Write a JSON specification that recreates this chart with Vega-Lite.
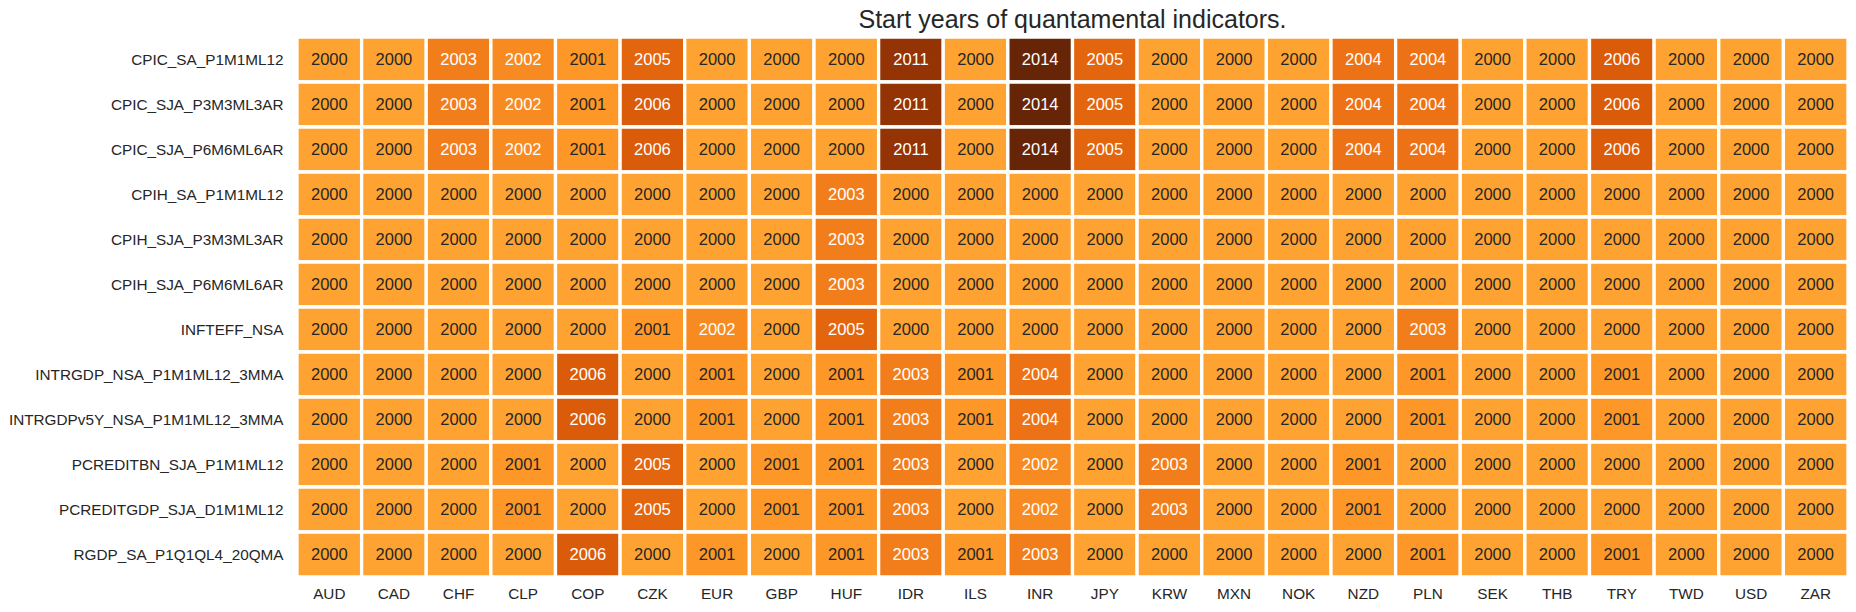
{
  "$schema": "https://vega.github.io/schema/vega-lite/v6.json",
  "autosize": {"type": "none"},
  "width": 1551,
  "height": 540,
  "padding": {"left": 297, "top": 37, "right": 8, "bottom": 35},
  "background": "white",
  "title": {"text": "Start years of quantamental indicators.", "fontSize": 25, "font": "Liberation Sans", "fontWeight": "normal", "color": "#262626", "anchor": "middle", "offset": 2},
  "config": {"view": {"stroke": null}, "axis": {"domain": false, "ticks": false, "grid": false, "labelFont": "Liberation Sans", "labelFontSize": 15.3, "labelColor": "#262626", "labelLimit": 0}},
  "data": {"values": [
{"ind":"CPIC_SA_P1M1ML12","cur":"AUD","year":2000},{"ind":"CPIC_SA_P1M1ML12","cur":"CAD","year":2000},{"ind":"CPIC_SA_P1M1ML12","cur":"CHF","year":2003},{"ind":"CPIC_SA_P1M1ML12","cur":"CLP","year":2002},{"ind":"CPIC_SA_P1M1ML12","cur":"COP","year":2001},{"ind":"CPIC_SA_P1M1ML12","cur":"CZK","year":2005},{"ind":"CPIC_SA_P1M1ML12","cur":"EUR","year":2000},{"ind":"CPIC_SA_P1M1ML12","cur":"GBP","year":2000},{"ind":"CPIC_SA_P1M1ML12","cur":"HUF","year":2000},{"ind":"CPIC_SA_P1M1ML12","cur":"IDR","year":2011},{"ind":"CPIC_SA_P1M1ML12","cur":"ILS","year":2000},{"ind":"CPIC_SA_P1M1ML12","cur":"INR","year":2014},{"ind":"CPIC_SA_P1M1ML12","cur":"JPY","year":2005},{"ind":"CPIC_SA_P1M1ML12","cur":"KRW","year":2000},{"ind":"CPIC_SA_P1M1ML12","cur":"MXN","year":2000},{"ind":"CPIC_SA_P1M1ML12","cur":"NOK","year":2000},{"ind":"CPIC_SA_P1M1ML12","cur":"NZD","year":2004},{"ind":"CPIC_SA_P1M1ML12","cur":"PLN","year":2004},{"ind":"CPIC_SA_P1M1ML12","cur":"SEK","year":2000},{"ind":"CPIC_SA_P1M1ML12","cur":"THB","year":2000},{"ind":"CPIC_SA_P1M1ML12","cur":"TRY","year":2006},{"ind":"CPIC_SA_P1M1ML12","cur":"TWD","year":2000},{"ind":"CPIC_SA_P1M1ML12","cur":"USD","year":2000},{"ind":"CPIC_SA_P1M1ML12","cur":"ZAR","year":2000},
{"ind":"CPIC_SJA_P3M3ML3AR","cur":"AUD","year":2000},{"ind":"CPIC_SJA_P3M3ML3AR","cur":"CAD","year":2000},{"ind":"CPIC_SJA_P3M3ML3AR","cur":"CHF","year":2003},{"ind":"CPIC_SJA_P3M3ML3AR","cur":"CLP","year":2002},{"ind":"CPIC_SJA_P3M3ML3AR","cur":"COP","year":2001},{"ind":"CPIC_SJA_P3M3ML3AR","cur":"CZK","year":2006},{"ind":"CPIC_SJA_P3M3ML3AR","cur":"EUR","year":2000},{"ind":"CPIC_SJA_P3M3ML3AR","cur":"GBP","year":2000},{"ind":"CPIC_SJA_P3M3ML3AR","cur":"HUF","year":2000},{"ind":"CPIC_SJA_P3M3ML3AR","cur":"IDR","year":2011},{"ind":"CPIC_SJA_P3M3ML3AR","cur":"ILS","year":2000},{"ind":"CPIC_SJA_P3M3ML3AR","cur":"INR","year":2014},{"ind":"CPIC_SJA_P3M3ML3AR","cur":"JPY","year":2005},{"ind":"CPIC_SJA_P3M3ML3AR","cur":"KRW","year":2000},{"ind":"CPIC_SJA_P3M3ML3AR","cur":"MXN","year":2000},{"ind":"CPIC_SJA_P3M3ML3AR","cur":"NOK","year":2000},{"ind":"CPIC_SJA_P3M3ML3AR","cur":"NZD","year":2004},{"ind":"CPIC_SJA_P3M3ML3AR","cur":"PLN","year":2004},{"ind":"CPIC_SJA_P3M3ML3AR","cur":"SEK","year":2000},{"ind":"CPIC_SJA_P3M3ML3AR","cur":"THB","year":2000},{"ind":"CPIC_SJA_P3M3ML3AR","cur":"TRY","year":2006},{"ind":"CPIC_SJA_P3M3ML3AR","cur":"TWD","year":2000},{"ind":"CPIC_SJA_P3M3ML3AR","cur":"USD","year":2000},{"ind":"CPIC_SJA_P3M3ML3AR","cur":"ZAR","year":2000},
{"ind":"CPIC_SJA_P6M6ML6AR","cur":"AUD","year":2000},{"ind":"CPIC_SJA_P6M6ML6AR","cur":"CAD","year":2000},{"ind":"CPIC_SJA_P6M6ML6AR","cur":"CHF","year":2003},{"ind":"CPIC_SJA_P6M6ML6AR","cur":"CLP","year":2002},{"ind":"CPIC_SJA_P6M6ML6AR","cur":"COP","year":2001},{"ind":"CPIC_SJA_P6M6ML6AR","cur":"CZK","year":2006},{"ind":"CPIC_SJA_P6M6ML6AR","cur":"EUR","year":2000},{"ind":"CPIC_SJA_P6M6ML6AR","cur":"GBP","year":2000},{"ind":"CPIC_SJA_P6M6ML6AR","cur":"HUF","year":2000},{"ind":"CPIC_SJA_P6M6ML6AR","cur":"IDR","year":2011},{"ind":"CPIC_SJA_P6M6ML6AR","cur":"ILS","year":2000},{"ind":"CPIC_SJA_P6M6ML6AR","cur":"INR","year":2014},{"ind":"CPIC_SJA_P6M6ML6AR","cur":"JPY","year":2005},{"ind":"CPIC_SJA_P6M6ML6AR","cur":"KRW","year":2000},{"ind":"CPIC_SJA_P6M6ML6AR","cur":"MXN","year":2000},{"ind":"CPIC_SJA_P6M6ML6AR","cur":"NOK","year":2000},{"ind":"CPIC_SJA_P6M6ML6AR","cur":"NZD","year":2004},{"ind":"CPIC_SJA_P6M6ML6AR","cur":"PLN","year":2004},{"ind":"CPIC_SJA_P6M6ML6AR","cur":"SEK","year":2000},{"ind":"CPIC_SJA_P6M6ML6AR","cur":"THB","year":2000},{"ind":"CPIC_SJA_P6M6ML6AR","cur":"TRY","year":2006},{"ind":"CPIC_SJA_P6M6ML6AR","cur":"TWD","year":2000},{"ind":"CPIC_SJA_P6M6ML6AR","cur":"USD","year":2000},{"ind":"CPIC_SJA_P6M6ML6AR","cur":"ZAR","year":2000},
{"ind":"CPIH_SA_P1M1ML12","cur":"AUD","year":2000},{"ind":"CPIH_SA_P1M1ML12","cur":"CAD","year":2000},{"ind":"CPIH_SA_P1M1ML12","cur":"CHF","year":2000},{"ind":"CPIH_SA_P1M1ML12","cur":"CLP","year":2000},{"ind":"CPIH_SA_P1M1ML12","cur":"COP","year":2000},{"ind":"CPIH_SA_P1M1ML12","cur":"CZK","year":2000},{"ind":"CPIH_SA_P1M1ML12","cur":"EUR","year":2000},{"ind":"CPIH_SA_P1M1ML12","cur":"GBP","year":2000},{"ind":"CPIH_SA_P1M1ML12","cur":"HUF","year":2003},{"ind":"CPIH_SA_P1M1ML12","cur":"IDR","year":2000},{"ind":"CPIH_SA_P1M1ML12","cur":"ILS","year":2000},{"ind":"CPIH_SA_P1M1ML12","cur":"INR","year":2000},{"ind":"CPIH_SA_P1M1ML12","cur":"JPY","year":2000},{"ind":"CPIH_SA_P1M1ML12","cur":"KRW","year":2000},{"ind":"CPIH_SA_P1M1ML12","cur":"MXN","year":2000},{"ind":"CPIH_SA_P1M1ML12","cur":"NOK","year":2000},{"ind":"CPIH_SA_P1M1ML12","cur":"NZD","year":2000},{"ind":"CPIH_SA_P1M1ML12","cur":"PLN","year":2000},{"ind":"CPIH_SA_P1M1ML12","cur":"SEK","year":2000},{"ind":"CPIH_SA_P1M1ML12","cur":"THB","year":2000},{"ind":"CPIH_SA_P1M1ML12","cur":"TRY","year":2000},{"ind":"CPIH_SA_P1M1ML12","cur":"TWD","year":2000},{"ind":"CPIH_SA_P1M1ML12","cur":"USD","year":2000},{"ind":"CPIH_SA_P1M1ML12","cur":"ZAR","year":2000},
{"ind":"CPIH_SJA_P3M3ML3AR","cur":"AUD","year":2000},{"ind":"CPIH_SJA_P3M3ML3AR","cur":"CAD","year":2000},{"ind":"CPIH_SJA_P3M3ML3AR","cur":"CHF","year":2000},{"ind":"CPIH_SJA_P3M3ML3AR","cur":"CLP","year":2000},{"ind":"CPIH_SJA_P3M3ML3AR","cur":"COP","year":2000},{"ind":"CPIH_SJA_P3M3ML3AR","cur":"CZK","year":2000},{"ind":"CPIH_SJA_P3M3ML3AR","cur":"EUR","year":2000},{"ind":"CPIH_SJA_P3M3ML3AR","cur":"GBP","year":2000},{"ind":"CPIH_SJA_P3M3ML3AR","cur":"HUF","year":2003},{"ind":"CPIH_SJA_P3M3ML3AR","cur":"IDR","year":2000},{"ind":"CPIH_SJA_P3M3ML3AR","cur":"ILS","year":2000},{"ind":"CPIH_SJA_P3M3ML3AR","cur":"INR","year":2000},{"ind":"CPIH_SJA_P3M3ML3AR","cur":"JPY","year":2000},{"ind":"CPIH_SJA_P3M3ML3AR","cur":"KRW","year":2000},{"ind":"CPIH_SJA_P3M3ML3AR","cur":"MXN","year":2000},{"ind":"CPIH_SJA_P3M3ML3AR","cur":"NOK","year":2000},{"ind":"CPIH_SJA_P3M3ML3AR","cur":"NZD","year":2000},{"ind":"CPIH_SJA_P3M3ML3AR","cur":"PLN","year":2000},{"ind":"CPIH_SJA_P3M3ML3AR","cur":"SEK","year":2000},{"ind":"CPIH_SJA_P3M3ML3AR","cur":"THB","year":2000},{"ind":"CPIH_SJA_P3M3ML3AR","cur":"TRY","year":2000},{"ind":"CPIH_SJA_P3M3ML3AR","cur":"TWD","year":2000},{"ind":"CPIH_SJA_P3M3ML3AR","cur":"USD","year":2000},{"ind":"CPIH_SJA_P3M3ML3AR","cur":"ZAR","year":2000},
{"ind":"CPIH_SJA_P6M6ML6AR","cur":"AUD","year":2000},{"ind":"CPIH_SJA_P6M6ML6AR","cur":"CAD","year":2000},{"ind":"CPIH_SJA_P6M6ML6AR","cur":"CHF","year":2000},{"ind":"CPIH_SJA_P6M6ML6AR","cur":"CLP","year":2000},{"ind":"CPIH_SJA_P6M6ML6AR","cur":"COP","year":2000},{"ind":"CPIH_SJA_P6M6ML6AR","cur":"CZK","year":2000},{"ind":"CPIH_SJA_P6M6ML6AR","cur":"EUR","year":2000},{"ind":"CPIH_SJA_P6M6ML6AR","cur":"GBP","year":2000},{"ind":"CPIH_SJA_P6M6ML6AR","cur":"HUF","year":2003},{"ind":"CPIH_SJA_P6M6ML6AR","cur":"IDR","year":2000},{"ind":"CPIH_SJA_P6M6ML6AR","cur":"ILS","year":2000},{"ind":"CPIH_SJA_P6M6ML6AR","cur":"INR","year":2000},{"ind":"CPIH_SJA_P6M6ML6AR","cur":"JPY","year":2000},{"ind":"CPIH_SJA_P6M6ML6AR","cur":"KRW","year":2000},{"ind":"CPIH_SJA_P6M6ML6AR","cur":"MXN","year":2000},{"ind":"CPIH_SJA_P6M6ML6AR","cur":"NOK","year":2000},{"ind":"CPIH_SJA_P6M6ML6AR","cur":"NZD","year":2000},{"ind":"CPIH_SJA_P6M6ML6AR","cur":"PLN","year":2000},{"ind":"CPIH_SJA_P6M6ML6AR","cur":"SEK","year":2000},{"ind":"CPIH_SJA_P6M6ML6AR","cur":"THB","year":2000},{"ind":"CPIH_SJA_P6M6ML6AR","cur":"TRY","year":2000},{"ind":"CPIH_SJA_P6M6ML6AR","cur":"TWD","year":2000},{"ind":"CPIH_SJA_P6M6ML6AR","cur":"USD","year":2000},{"ind":"CPIH_SJA_P6M6ML6AR","cur":"ZAR","year":2000},
{"ind":"INFTEFF_NSA","cur":"AUD","year":2000},{"ind":"INFTEFF_NSA","cur":"CAD","year":2000},{"ind":"INFTEFF_NSA","cur":"CHF","year":2000},{"ind":"INFTEFF_NSA","cur":"CLP","year":2000},{"ind":"INFTEFF_NSA","cur":"COP","year":2000},{"ind":"INFTEFF_NSA","cur":"CZK","year":2001},{"ind":"INFTEFF_NSA","cur":"EUR","year":2002},{"ind":"INFTEFF_NSA","cur":"GBP","year":2000},{"ind":"INFTEFF_NSA","cur":"HUF","year":2005},{"ind":"INFTEFF_NSA","cur":"IDR","year":2000},{"ind":"INFTEFF_NSA","cur":"ILS","year":2000},{"ind":"INFTEFF_NSA","cur":"INR","year":2000},{"ind":"INFTEFF_NSA","cur":"JPY","year":2000},{"ind":"INFTEFF_NSA","cur":"KRW","year":2000},{"ind":"INFTEFF_NSA","cur":"MXN","year":2000},{"ind":"INFTEFF_NSA","cur":"NOK","year":2000},{"ind":"INFTEFF_NSA","cur":"NZD","year":2000},{"ind":"INFTEFF_NSA","cur":"PLN","year":2003},{"ind":"INFTEFF_NSA","cur":"SEK","year":2000},{"ind":"INFTEFF_NSA","cur":"THB","year":2000},{"ind":"INFTEFF_NSA","cur":"TRY","year":2000},{"ind":"INFTEFF_NSA","cur":"TWD","year":2000},{"ind":"INFTEFF_NSA","cur":"USD","year":2000},{"ind":"INFTEFF_NSA","cur":"ZAR","year":2000},
{"ind":"INTRGDP_NSA_P1M1ML12_3MMA","cur":"AUD","year":2000},{"ind":"INTRGDP_NSA_P1M1ML12_3MMA","cur":"CAD","year":2000},{"ind":"INTRGDP_NSA_P1M1ML12_3MMA","cur":"CHF","year":2000},{"ind":"INTRGDP_NSA_P1M1ML12_3MMA","cur":"CLP","year":2000},{"ind":"INTRGDP_NSA_P1M1ML12_3MMA","cur":"COP","year":2006},{"ind":"INTRGDP_NSA_P1M1ML12_3MMA","cur":"CZK","year":2000},{"ind":"INTRGDP_NSA_P1M1ML12_3MMA","cur":"EUR","year":2001},{"ind":"INTRGDP_NSA_P1M1ML12_3MMA","cur":"GBP","year":2000},{"ind":"INTRGDP_NSA_P1M1ML12_3MMA","cur":"HUF","year":2001},{"ind":"INTRGDP_NSA_P1M1ML12_3MMA","cur":"IDR","year":2003},{"ind":"INTRGDP_NSA_P1M1ML12_3MMA","cur":"ILS","year":2001},{"ind":"INTRGDP_NSA_P1M1ML12_3MMA","cur":"INR","year":2004},{"ind":"INTRGDP_NSA_P1M1ML12_3MMA","cur":"JPY","year":2000},{"ind":"INTRGDP_NSA_P1M1ML12_3MMA","cur":"KRW","year":2000},{"ind":"INTRGDP_NSA_P1M1ML12_3MMA","cur":"MXN","year":2000},{"ind":"INTRGDP_NSA_P1M1ML12_3MMA","cur":"NOK","year":2000},{"ind":"INTRGDP_NSA_P1M1ML12_3MMA","cur":"NZD","year":2000},{"ind":"INTRGDP_NSA_P1M1ML12_3MMA","cur":"PLN","year":2001},{"ind":"INTRGDP_NSA_P1M1ML12_3MMA","cur":"SEK","year":2000},{"ind":"INTRGDP_NSA_P1M1ML12_3MMA","cur":"THB","year":2000},{"ind":"INTRGDP_NSA_P1M1ML12_3MMA","cur":"TRY","year":2001},{"ind":"INTRGDP_NSA_P1M1ML12_3MMA","cur":"TWD","year":2000},{"ind":"INTRGDP_NSA_P1M1ML12_3MMA","cur":"USD","year":2000},{"ind":"INTRGDP_NSA_P1M1ML12_3MMA","cur":"ZAR","year":2000},
{"ind":"INTRGDPv5Y_NSA_P1M1ML12_3MMA","cur":"AUD","year":2000},{"ind":"INTRGDPv5Y_NSA_P1M1ML12_3MMA","cur":"CAD","year":2000},{"ind":"INTRGDPv5Y_NSA_P1M1ML12_3MMA","cur":"CHF","year":2000},{"ind":"INTRGDPv5Y_NSA_P1M1ML12_3MMA","cur":"CLP","year":2000},{"ind":"INTRGDPv5Y_NSA_P1M1ML12_3MMA","cur":"COP","year":2006},{"ind":"INTRGDPv5Y_NSA_P1M1ML12_3MMA","cur":"CZK","year":2000},{"ind":"INTRGDPv5Y_NSA_P1M1ML12_3MMA","cur":"EUR","year":2001},{"ind":"INTRGDPv5Y_NSA_P1M1ML12_3MMA","cur":"GBP","year":2000},{"ind":"INTRGDPv5Y_NSA_P1M1ML12_3MMA","cur":"HUF","year":2001},{"ind":"INTRGDPv5Y_NSA_P1M1ML12_3MMA","cur":"IDR","year":2003},{"ind":"INTRGDPv5Y_NSA_P1M1ML12_3MMA","cur":"ILS","year":2001},{"ind":"INTRGDPv5Y_NSA_P1M1ML12_3MMA","cur":"INR","year":2004},{"ind":"INTRGDPv5Y_NSA_P1M1ML12_3MMA","cur":"JPY","year":2000},{"ind":"INTRGDPv5Y_NSA_P1M1ML12_3MMA","cur":"KRW","year":2000},{"ind":"INTRGDPv5Y_NSA_P1M1ML12_3MMA","cur":"MXN","year":2000},{"ind":"INTRGDPv5Y_NSA_P1M1ML12_3MMA","cur":"NOK","year":2000},{"ind":"INTRGDPv5Y_NSA_P1M1ML12_3MMA","cur":"NZD","year":2000},{"ind":"INTRGDPv5Y_NSA_P1M1ML12_3MMA","cur":"PLN","year":2001},{"ind":"INTRGDPv5Y_NSA_P1M1ML12_3MMA","cur":"SEK","year":2000},{"ind":"INTRGDPv5Y_NSA_P1M1ML12_3MMA","cur":"THB","year":2000},{"ind":"INTRGDPv5Y_NSA_P1M1ML12_3MMA","cur":"TRY","year":2001},{"ind":"INTRGDPv5Y_NSA_P1M1ML12_3MMA","cur":"TWD","year":2000},{"ind":"INTRGDPv5Y_NSA_P1M1ML12_3MMA","cur":"USD","year":2000},{"ind":"INTRGDPv5Y_NSA_P1M1ML12_3MMA","cur":"ZAR","year":2000},
{"ind":"PCREDITBN_SJA_P1M1ML12","cur":"AUD","year":2000},{"ind":"PCREDITBN_SJA_P1M1ML12","cur":"CAD","year":2000},{"ind":"PCREDITBN_SJA_P1M1ML12","cur":"CHF","year":2000},{"ind":"PCREDITBN_SJA_P1M1ML12","cur":"CLP","year":2001},{"ind":"PCREDITBN_SJA_P1M1ML12","cur":"COP","year":2000},{"ind":"PCREDITBN_SJA_P1M1ML12","cur":"CZK","year":2005},{"ind":"PCREDITBN_SJA_P1M1ML12","cur":"EUR","year":2000},{"ind":"PCREDITBN_SJA_P1M1ML12","cur":"GBP","year":2001},{"ind":"PCREDITBN_SJA_P1M1ML12","cur":"HUF","year":2001},{"ind":"PCREDITBN_SJA_P1M1ML12","cur":"IDR","year":2003},{"ind":"PCREDITBN_SJA_P1M1ML12","cur":"ILS","year":2000},{"ind":"PCREDITBN_SJA_P1M1ML12","cur":"INR","year":2002},{"ind":"PCREDITBN_SJA_P1M1ML12","cur":"JPY","year":2000},{"ind":"PCREDITBN_SJA_P1M1ML12","cur":"KRW","year":2003},{"ind":"PCREDITBN_SJA_P1M1ML12","cur":"MXN","year":2000},{"ind":"PCREDITBN_SJA_P1M1ML12","cur":"NOK","year":2000},{"ind":"PCREDITBN_SJA_P1M1ML12","cur":"NZD","year":2001},{"ind":"PCREDITBN_SJA_P1M1ML12","cur":"PLN","year":2000},{"ind":"PCREDITBN_SJA_P1M1ML12","cur":"SEK","year":2000},{"ind":"PCREDITBN_SJA_P1M1ML12","cur":"THB","year":2000},{"ind":"PCREDITBN_SJA_P1M1ML12","cur":"TRY","year":2000},{"ind":"PCREDITBN_SJA_P1M1ML12","cur":"TWD","year":2000},{"ind":"PCREDITBN_SJA_P1M1ML12","cur":"USD","year":2000},{"ind":"PCREDITBN_SJA_P1M1ML12","cur":"ZAR","year":2000},
{"ind":"PCREDITGDP_SJA_D1M1ML12","cur":"AUD","year":2000},{"ind":"PCREDITGDP_SJA_D1M1ML12","cur":"CAD","year":2000},{"ind":"PCREDITGDP_SJA_D1M1ML12","cur":"CHF","year":2000},{"ind":"PCREDITGDP_SJA_D1M1ML12","cur":"CLP","year":2001},{"ind":"PCREDITGDP_SJA_D1M1ML12","cur":"COP","year":2000},{"ind":"PCREDITGDP_SJA_D1M1ML12","cur":"CZK","year":2005},{"ind":"PCREDITGDP_SJA_D1M1ML12","cur":"EUR","year":2000},{"ind":"PCREDITGDP_SJA_D1M1ML12","cur":"GBP","year":2001},{"ind":"PCREDITGDP_SJA_D1M1ML12","cur":"HUF","year":2001},{"ind":"PCREDITGDP_SJA_D1M1ML12","cur":"IDR","year":2003},{"ind":"PCREDITGDP_SJA_D1M1ML12","cur":"ILS","year":2000},{"ind":"PCREDITGDP_SJA_D1M1ML12","cur":"INR","year":2002},{"ind":"PCREDITGDP_SJA_D1M1ML12","cur":"JPY","year":2000},{"ind":"PCREDITGDP_SJA_D1M1ML12","cur":"KRW","year":2003},{"ind":"PCREDITGDP_SJA_D1M1ML12","cur":"MXN","year":2000},{"ind":"PCREDITGDP_SJA_D1M1ML12","cur":"NOK","year":2000},{"ind":"PCREDITGDP_SJA_D1M1ML12","cur":"NZD","year":2001},{"ind":"PCREDITGDP_SJA_D1M1ML12","cur":"PLN","year":2000},{"ind":"PCREDITGDP_SJA_D1M1ML12","cur":"SEK","year":2000},{"ind":"PCREDITGDP_SJA_D1M1ML12","cur":"THB","year":2000},{"ind":"PCREDITGDP_SJA_D1M1ML12","cur":"TRY","year":2000},{"ind":"PCREDITGDP_SJA_D1M1ML12","cur":"TWD","year":2000},{"ind":"PCREDITGDP_SJA_D1M1ML12","cur":"USD","year":2000},{"ind":"PCREDITGDP_SJA_D1M1ML12","cur":"ZAR","year":2000},
{"ind":"RGDP_SA_P1Q1QL4_20QMA","cur":"AUD","year":2000},{"ind":"RGDP_SA_P1Q1QL4_20QMA","cur":"CAD","year":2000},{"ind":"RGDP_SA_P1Q1QL4_20QMA","cur":"CHF","year":2000},{"ind":"RGDP_SA_P1Q1QL4_20QMA","cur":"CLP","year":2000},{"ind":"RGDP_SA_P1Q1QL4_20QMA","cur":"COP","year":2006},{"ind":"RGDP_SA_P1Q1QL4_20QMA","cur":"CZK","year":2000},{"ind":"RGDP_SA_P1Q1QL4_20QMA","cur":"EUR","year":2001},{"ind":"RGDP_SA_P1Q1QL4_20QMA","cur":"GBP","year":2000},{"ind":"RGDP_SA_P1Q1QL4_20QMA","cur":"HUF","year":2001},{"ind":"RGDP_SA_P1Q1QL4_20QMA","cur":"IDR","year":2003},{"ind":"RGDP_SA_P1Q1QL4_20QMA","cur":"ILS","year":2001},{"ind":"RGDP_SA_P1Q1QL4_20QMA","cur":"INR","year":2003},{"ind":"RGDP_SA_P1Q1QL4_20QMA","cur":"JPY","year":2000},{"ind":"RGDP_SA_P1Q1QL4_20QMA","cur":"KRW","year":2000},{"ind":"RGDP_SA_P1Q1QL4_20QMA","cur":"MXN","year":2000},{"ind":"RGDP_SA_P1Q1QL4_20QMA","cur":"NOK","year":2000},{"ind":"RGDP_SA_P1Q1QL4_20QMA","cur":"NZD","year":2000},{"ind":"RGDP_SA_P1Q1QL4_20QMA","cur":"PLN","year":2001},{"ind":"RGDP_SA_P1Q1QL4_20QMA","cur":"SEK","year":2000},{"ind":"RGDP_SA_P1Q1QL4_20QMA","cur":"THB","year":2000},{"ind":"RGDP_SA_P1Q1QL4_20QMA","cur":"TRY","year":2001},{"ind":"RGDP_SA_P1Q1QL4_20QMA","cur":"TWD","year":2000},{"ind":"RGDP_SA_P1Q1QL4_20QMA","cur":"USD","year":2000},{"ind":"RGDP_SA_P1Q1QL4_20QMA","cur":"ZAR","year":2000}
  ]},
  "encoding": {
    "x": {"field": "cur", "type": "nominal", "sort": null, "title": null, "axis": {"orient": "bottom", "labelAngle": 0, "labelPadding": 9}, "scale": {"paddingInner": 0, "paddingOuter": 0}},
    "y": {"field": "ind", "type": "nominal", "sort": null, "title": null, "axis": {"labelPadding": 14}, "scale": {"paddingInner": 0, "paddingOuter": 0}}
  },
  "layer": [
    {"mark": {"type": "rect", "stroke": "white", "strokeWidth": 3.3},
     "encoding": {"color": {"field": "year", "type": "quantitative", "legend": null,
       "scale": {"domain": [1987.6, 1990.9, 1994.2, 1997.5, 2000.8, 2004.1, 2007.4, 2010.7, 2014], "range": ["#ffffe5", "#fff7bc", "#fee391", "#fec44f", "#fe9929", "#ec7014", "#cc4c02", "#993404", "#662506"], "interpolate": "rgb", "clamp": true}}}},
    {"mark": {"type": "text", "font": "Liberation Sans", "fontSize": 16.5, "baseline": "middle", "align": "center"},
     "encoding": {"text": {"field": "year", "type": "quantitative", "format": "d"},
       "color": {"condition": {"test": "datum.year >= 2002", "value": "white"}, "value": "#262626"}}}
  ]
}
